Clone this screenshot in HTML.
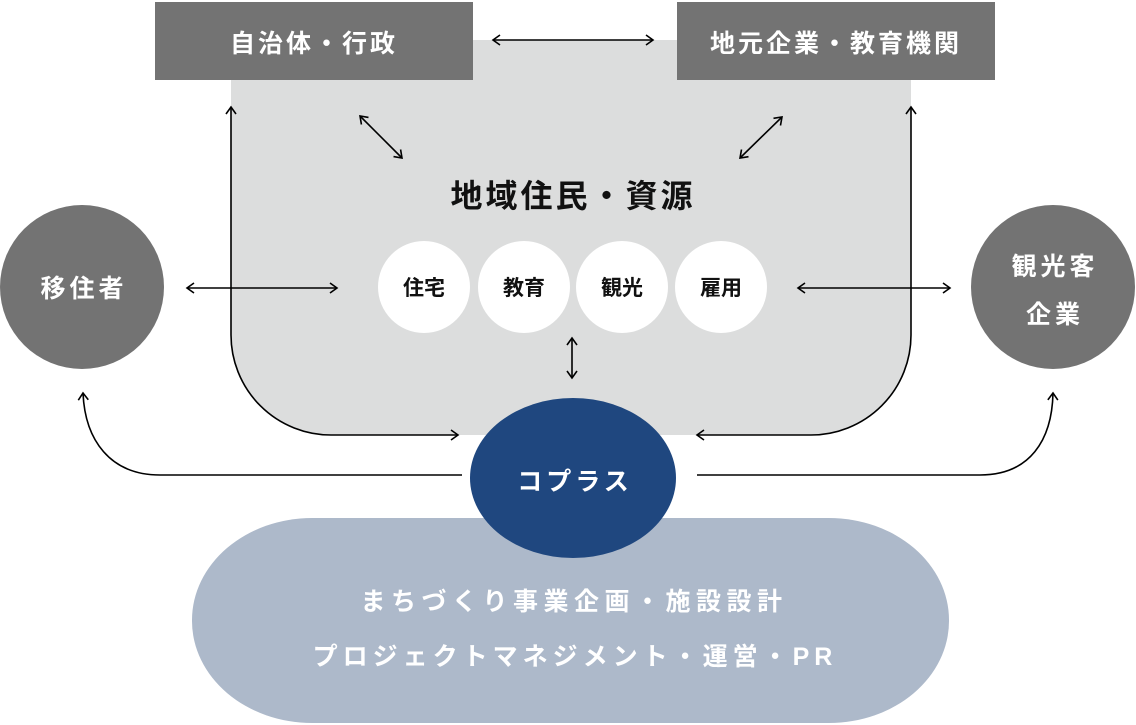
<!DOCTYPE html>
<html><head><meta charset="utf-8"><style>
html,body{margin:0;padding:0;background:#fff}
svg{display:block}
text{font-family:"Liberation Sans","Noto Sans CJK JP",sans-serif;font-weight:bold}
</style></head><body>
<svg width="1136" height="725" viewBox="0 0 1136 725" xmlns="http://www.w3.org/2000/svg">
<defs>
<marker id="a" viewBox="0 0 12 12" refX="10" refY="6" markerWidth="12" markerHeight="12" markerUnits="userSpaceOnUse" orient="auto-start-reverse">
<path d="M3,1 L10,6 L3,11" fill="none" stroke="#000" stroke-width="1.6"/>
</marker>
</defs>
<path d="M231,40 H911 V335 A100,100 0 0 1 811,435 H331 A100,100 0 0 1 231,335 Z" fill="#dcdddd"/>
<rect x="155" y="2" width="318" height="78" fill="#737373"/>
<rect x="677" y="2" width="318" height="78" fill="#737373"/>
<text x="314" y="52" font-size="25" fill="#fff" text-anchor="middle" letter-spacing="3">自治体・行政</text>
<text x="836" y="52" font-size="25" fill="#fff" text-anchor="middle" letter-spacing="3">地元企業・教育機関</text>
<circle cx="82" cy="287" r="82" fill="#737373"/>
<circle cx="1053" cy="287" r="82" fill="#737373"/>
<text x="84" y="297" font-size="25" fill="#fff" text-anchor="middle" letter-spacing="4">移住者</text>
<text x="1055" y="275" font-size="25" fill="#fff" text-anchor="middle" letter-spacing="4">観光客</text>
<text x="1055" y="323" font-size="25" fill="#fff" text-anchor="middle" letter-spacing="4">企業</text>
<text x="573" y="207" font-size="32" fill="#111" text-anchor="middle" letter-spacing="3">地域住民・資源</text>
<g fill="#fff"><circle cx="424" cy="287" r="46"/><circle cx="524" cy="287" r="46"/><circle cx="622" cy="287" r="46"/><circle cx="721" cy="287" r="46"/></g>
<g font-size="21" fill="#111" text-anchor="middle">
<text x="424" y="295">住宅</text><text x="524" y="295">教育</text><text x="622" y="295">観光</text><text x="721" y="295">雇用</text>
</g>
<rect x="192" y="518" width="757" height="205" rx="120" ry="102" fill="#adb9ca"/>
<text x="574" y="610" font-size="25" fill="#fff" text-anchor="middle" letter-spacing="5.5">まちづくり事業企画・施設設計</text>
<text x="575" y="665" font-size="25" fill="#fff" text-anchor="middle" letter-spacing="5">プロジェクトマネジメント・運営・PR</text>
<ellipse cx="573" cy="478" rx="103" ry="80" fill="#1f477f"/>
<text x="575" y="490" font-size="25" fill="#fff" text-anchor="middle" letter-spacing="4">コプラス</text>
<g fill="none" stroke="#000" stroke-width="1.6" marker-start="url(#a)" marker-end="url(#a)">
<line x1="493" y1="40" x2="653" y2="40"/>
<line x1="360" y1="116" x2="402" y2="158"/>
<line x1="782" y1="117" x2="740" y2="158"/>
<line x1="187" y1="288" x2="337" y2="288"/>
<line x1="798" y1="288" x2="950" y2="288"/>
<line x1="572" y1="338" x2="572" y2="378"/>
</g>
<g fill="none" stroke="#000" stroke-width="1.6" marker-end="url(#a)">
<path d="M231,107 V335 A100,100 0 0 0 331,435 H458" marker-start="url(#a)" marker-end="url(#a)"/>
<path d="M911,107 V335 A100,100 0 0 1 811,435 H697" marker-start="url(#a)" marker-end="url(#a)"/>
<path d="M462,475 H160 C110,475 85,440 83,393"/>
<path d="M697,475 H980 C1030,475 1052,440 1053,393"/>
</g>
</svg>
</body></html>
